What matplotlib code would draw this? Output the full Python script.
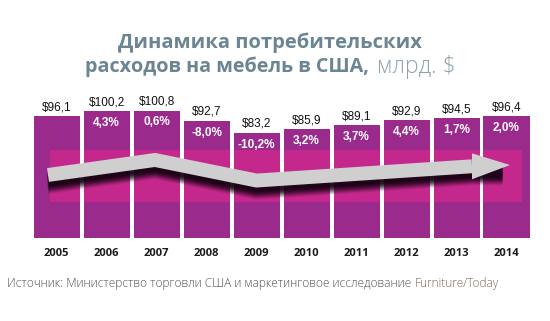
import numpy as np
import matplotlib
matplotlib.use('Agg')
import matplotlib.pyplot as plt

# Данные: расходы на мебель в США, млрд $
years = [2005, 2006, 2007, 2008, 2009, 2010, 2011, 2012, 2013, 2014]
spending = [96.1, 100.2, 100.8, 92.7, 83.2, 85.9, 89.1, 92.9, 94.5, 96.4]
growth = [None, 4.3, 0.6, -8.0, -10.2, 3.2, 3.7, 4.4, 1.7, 2.0]

# декоративная стрелка тренда (индекс столбца, уровень)
trend_x = [-0.17, 1.97, 4.0, 8.31]
trend_y = [49.7, 61.6, 45.3, 56.6]
head_tip = (9.07, 57.6)
head_half = 10.3

bar_color = '#9b2a8d'
band_color = '#c4288c'
arrow_color = '#cfcfcf'

fig = plt.figure(figsize=(5.5, 3.21), dpi=100)
ax = fig.add_axes([31.5 / 550, 83.3 / 321, 500 / 550, 138.8 / 321])
ax.set_xlim(-0.5, 9.5)
ax.set_ylim(0, 110)
ax.axis('off')

x = np.arange(len(years))
width = 0.92
ax.bar(x, spending, width=width, color=bar_color, zorder=1)

# розовая полоса поперёк столбцов
band_lo, band_hi = 28.3, 69.5
band_left, band_right = -0.13, 9.31
for xi in x:
    left = max(xi - width / 2, band_left)
    right = min(xi + width / 2, band_right)
    ax.bar(left, band_hi - band_lo, width=right - left, bottom=band_lo,
           align='edge', color=band_color, zorder=2)

# подписи значений и приростов
for xi, v, g in zip(x, spending, growth):
    ax.annotate(f'${v:.1f}'.replace('.', ','), (xi, v), xytext=(0, 2),
                textcoords='offset points', ha='center', va='bottom',
                fontsize=8.5, family='Liberation Sans', color='#111111')
    if g is not None:
        ax.annotate(f'{g:.1f}%'.replace('.', ','), (xi, v), xytext=(0, -8.5),
                    textcoords='offset points', ha='center', va='center',
                    fontsize=8.5, family='Liberation Sans', color='white',
                    fontweight='bold', zorder=5)

# тень под стрелкой
sx = list(trend_x) + [head_tip[0] - 0.15]
sy = np.array(list(trend_y) + [head_tip[1] - 1])
for k in range(9):
    ax.plot(sx, sy - 3.0 - k * 1.1, color='#140312',
            lw=10 - k * 0.5, alpha=0.42 - k * 0.04, solid_capstyle='butt',
            solid_joinstyle='round', zorder=3)

# стрелка
ax.plot(trend_x, trend_y, color=arrow_color, lw=10, solid_capstyle='butt',
        solid_joinstyle='miter', zorder=4)
hx = trend_x[-1]
hy = trend_y[-1]
ax.fill([hx, head_tip[0], hx], [hy + head_half, head_tip[1], hy - head_half],
        color=arrow_color, lw=0, zorder=4)

# годы под столбцами
for xi, yr in zip(x, years):
    ax.annotate(str(yr), (xi, 0), xytext=(0, -11.5), textcoords='offset points',
                ha='center', va='center', fontsize=8, fontweight='bold',
                family='Open Sans', color='#1a1a1a')

# заголовок
title_color = '#6b8592'
fig.text(270 / 550, 1 - 43 / 321, 'Динамика потребительских', ha='center',
         va='center', fontsize=14.5, fontweight='bold', family='Open Sans',
         color=title_color)
fig.text(369 / 550, 1 - 67 / 321, 'расходов на мебель в США,', ha='right',
         va='center', fontsize=14.2, fontweight='bold', family='Open Sans',
         color=title_color)
fig.text(377 / 550, 1 - 67 / 321, 'млрд. $', ha='left', va='center',
         fontsize=16.5, fontweight='light', family='Open Sans', color='#8fa3ad')

# источник
src = fig.text(7 / 550, 1 - 283 / 321,
               'Источник: Министерство торговли США и маркетинговое исследование ',
               ha='left', va='center', fontsize=8.6, family='Open Sans',
               fontweight='light', color='#555555')
renderer = fig.canvas.get_renderer()
bb = src.get_window_extent(renderer)
fig.text(bb.x1 / fig.bbox.width, 1 - 283 / 321, 'Furniture/Today', ha='left',
         va='center', fontsize=8.6, family='Open Sans', fontweight='light',
         color='#7d6a55')

fig.savefig('out.png', dpi=100)
